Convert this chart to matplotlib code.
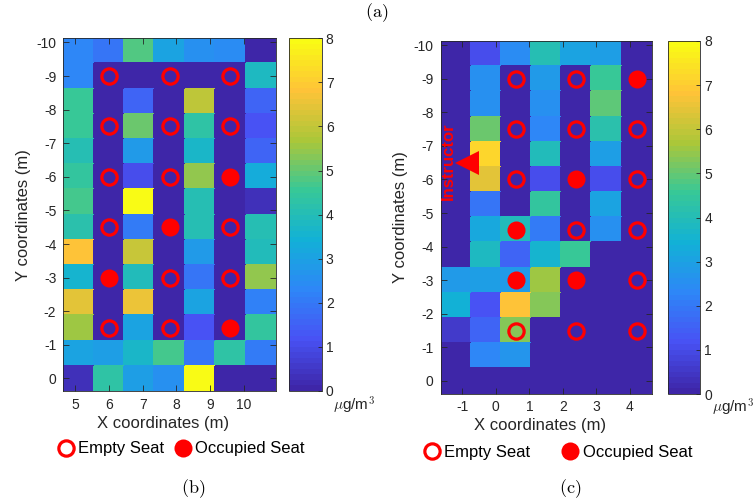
"""Seat-level concentration maps for two classrooms."""

import matplotlib
matplotlib.use("Agg")
import matplotlib.pyplot as plt
import numpy as np
from matplotlib.colors import LinearSegmentedColormap
from matplotlib.lines import Line2D

plt.rcParams["font.family"] = ["Liberation Sans", "DejaVu Sans"]
plt.rcParams["axes.unicode_minus"] = False
plt.rcParams["mathtext.fontset"] = "cm"

# parula(8)
PARULA = [
    (0.2422, 0.1504, 0.6603), (0.2810, 0.3228, 0.9579),
    (0.1786, 0.5289, 0.9682), (0.0689, 0.6948, 0.8394),
    (0.2161, 0.7843, 0.5923), (0.6720, 0.7793, 0.2227),
    (0.9970, 0.7659, 0.2199), (0.9769, 0.9839, 0.0805),
]
parula = LinearSegmentedColormap.from_list("parula", PARULA, N=64)

TXT = "#262626"

# concentration, rows from y=-9.75 (top) down to y=0 (bottom)
left_conc = np.array([
    [2.3, 1.9, 4.8, 3.0, 2.5, 2.4, 0.1],
    [2.3, 0.0, 0.0, 0.0, 0.0, 0.0, 3.8],
    [4.6, 0.0, 1.6, 0.0, 5.9, 0.0, 1.6],
    [4.5, 0.0, 5.1, 0.0, 4.3, 0.0, 1.2],
    [4.1, 0.0, 2.8, 0.0, 3.7, 0.0, 1.5],
    [4.4, 0.0, 1.0, 0.0, 5.4, 0.0, 3.3],
    [4.7, 0.0, 8.0, 0.0, 4.0, 0.0, 0.3],
    [4.2, 0.0, 2.1, 0.0, 4.1, 0.0, 4.0],
    [6.8, 0.0, 6.0, 0.0, 2.8, 0.0, 3.9],
    [3.6, 0.0, 3.9, 0.0, 1.9, 0.0, 5.4],
    [6.4, 0.0, 6.5, 0.0, 3.1, 0.0, 2.2],
    [5.5, 0.0, 3.0, 0.0, 1.2, 0.0, 4.4],
    [3.1, 2.9, 3.7, 4.7, 1.9, 4.3, 2.1],
    [0.3, 4.3, 2.9, 2.6, 8.0, 0.0, 0.0],
])

right_conc = np.array([
    [0.0, 1.0, 2.4, 4.1, 3.0, 2.9, 0.0],
    [0.0, 2.6, 0.0, 2.8, 0.0, 4.5, 0.0],
    [0.0, 2.5, 0.0, 2.6, 0.0, 4.9, 0.0],
    [0.0, 5.0, 0.0, 2.3, 0.0, 4.2, 0.0],
    [0.0, 7.2, 0.0, 3.9, 0.0, 2.9, 0.0],
    [0.0, 6.4, 0.0, 1.0, 0.0, 1.1, 0.0],
    [0.0, 1.9, 0.0, 4.4, 0.0, 3.1, 0.0],
    [0.0, 3.2, 3.9, 2.0, 0.0, 2.6, 0.0],
    [0.0, 3.8, 1.6, 3.6, 4.6, 0.0, 0.0],
    [2.8, 2.9, 2.8, 5.6, 0.0, 0.0, 0.0],
    [3.4, 1.2, 6.8, 5.3, 0.0, 0.0, 0.0],
    [0.6, 1.6, 5.3, 0.0, 0.0, 0.0, 0.0],
    [0.0, 2.3, 2.7, 0.0, 0.0, 0.0, 0.0],
    [0.0, 0.0, 0.0, 0.0, 0.0, 0.0, 0.0],
])

seat_rows = [-9.0, -7.5, -6.0, -4.5, -3.0, -1.5]
left_seat_cols = [6.0, 7.8, 9.6]
left_occupied = [(9.6, -6.0), (7.8, -4.5), (6.0, -3.0), (9.6, -1.5)]
right_seat_cols = [0.6, 2.4, 4.2]
right_occupied = [(4.2, -9.0), (2.4, -6.0), (0.6, -4.5), (0.6, -3.0), (2.4, -3.0)]

left_xticks = [5, 6, 7, 8, 9, 10]
right_xticks = [-1, 0, 1, 2, 3, 4]
yticks = list(range(-10, 1))
cbar_ticks = list(range(0, 9))

instructor_xy = (-0.85, -6.5)

W, H = 753, 503


def frac(x0, y0, x1, y1):
    return [x0 / W, 1 - y1 / H, (x1 - x0) / W, (y1 - y0) / H]


def draw_panel(fig, ax_px, cax_px, conc, x_lo, seat_cols, occupied, xticks):
    ax = fig.add_axes(frac(*ax_px))
    nrow, ncol = conc.shape
    x_edges = x_lo + 0.9 * np.arange(ncol + 1)
    y_edges = -10.125 + 0.75 * np.arange(nrow + 1)
    mesh = ax.pcolormesh(x_edges, y_edges, conc, cmap=parula, vmin=0, vmax=8,
                         shading="flat", edgecolors="face", linewidth=0.2)

    occ = set(occupied)
    for sx in seat_cols:
        for sy in seat_rows:
            if (sx, sy) in occ:
                ax.plot(sx, sy, "o", ms=13, mfc="red", mec="red", mew=0)
            else:
                ax.plot(sx, sy, "o", ms=11, mfc="none", mec="red", mew=2.3)

    ax.set_xlim(x_edges[0], x_edges[-1])
    ax.set_ylim(y_edges[-1], y_edges[0])
    ax.set_xticks(xticks)
    ax.set_yticks(yticks)
    ax.tick_params(direction="in", top=True, right=True, length=4, width=0.6,
                   labelsize=10, colors=TXT, pad=5)
    for sp in ax.spines.values():
        sp.set_color(TXT)
        sp.set_linewidth(0.6)
    ax.set_xlabel("X coordinates (m)", fontsize=12, color=TXT)
    ax.xaxis.set_label_coords(0.47, -0.07)
    ax.set_ylabel("Y coordinates (m)", fontsize=12, color=TXT, labelpad=4)

    cax = fig.add_axes(frac(*cax_px))
    cb = fig.colorbar(mesh, cax=cax, ticks=cbar_ticks)
    cb.ax.tick_params(direction="in", length=3, width=0.6, labelsize=10,
                      colors=TXT, pad=3)
    cb.outline.set_edgecolor(TXT)
    cb.outline.set_linewidth(0.6)
    return ax


fig = plt.figure(figsize=(7.53, 5.03), dpi=100)

ax_l = draw_panel(fig, (63.3, 38.3, 276, 391), (289, 38.3, 321.7, 391),
                  left_conc, 4.65, left_seat_cols, left_occupied, left_xticks)
ax_r = draw_panel(fig, (440.5, 41, 651.7, 393.5), (667.7, 41, 700, 394),
                  right_conc, -1.65, right_seat_cols, right_occupied, right_xticks)

ax_r.plot(*instructor_xy, "<", ms=17, color="red", mew=0)
ax_r.text(instructor_xy[0] - 0.58, instructor_xy[1] - 0.05, "Instructor",
          rotation=90, color="red", fontsize=12, fontweight="bold",
          ha="center", va="center")

unit = r"$\mu$g/m$^3$"
fig.text(333 / W, 1 - 405 / H, unit, fontsize=11, color=TXT, va="center")
fig.text(712 / W, 1 - 407 / H, unit, fontsize=11, color=TXT, va="center")

handles = [
    Line2D([], [], ls="", marker="o", ms=11, mfc="none", mec="red", mew=2.3),
    Line2D([], [], ls="", marker="o", ms=13, mfc="red", mec="red", mew=0),
]
labels = ["Empty Seat", "Occupied Seat"]
fig.legend(handles, labels, loc="center", bbox_to_anchor=(181 / W, 1 - 449 / H),
           ncol=2, frameon=False, fontsize=12, handlelength=1.0,
           handletextpad=0.25, columnspacing=0.6, borderpad=0)
fig.legend(handles, labels, loc="center", bbox_to_anchor=(558 / W, 1 - 452 / H),
           ncol=2, frameon=False, fontsize=12, handlelength=1.0,
           handletextpad=0.25, columnspacing=1.9, borderpad=0)

fig.text(377 / W, 1 - 13 / H, r"$(\mathrm{a})$", fontsize=13, ha="center", va="center")
fig.text(193 / W, 1 - 489 / H, r"$(\mathrm{b})$", fontsize=13, ha="center", va="center")
fig.text(570 / W, 1 - 489 / H, r"$(\mathrm{c})$", fontsize=13, ha="center", va="center")

fig.savefig("out.png", dpi=100)
plt.close(fig)
